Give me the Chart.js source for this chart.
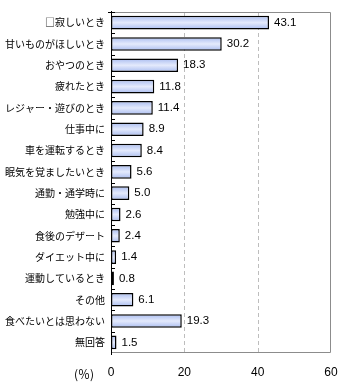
<!DOCTYPE html>
<html>
<head>
<meta charset="utf-8">
<script src="https://cdn.jsdelivr.net/npm/chart.js@4"></script>
<style>
  html,body{margin:0;padding:0;background:#fff;}
  #wrap{width:340px;height:384px;position:relative;}
</style>
</head>
<body>
<div id="wrap"><canvas id="c" width="340" height="384"></canvas></div>
<script>
const categories = [
  "□寂しいとき", "甘いものがほしいとき", "おやつのとき", "疲れたとき",
  "レジャー・遊びのとき", "仕事中に", "車を運転するとき", "眠気を覚ましたいとき",
  "通勤・通学時に", "勉強中に", "食後のデザート", "ダイエット中に",
  "運動しているとき", "その他", "食べたいとは思わない", "無回答"
];
const values = [43.1, 30.2, 18.3, 11.8, 11.4, 8.9, 8.4, 5.6, 5.0, 2.6, 2.4, 1.4, 0.8, 6.1, 19.3, 1.5];
const xTicks = [0, 20, 40, 60];

const labelFont = '"Noto Sans CJK JP", sans-serif';
const numFont = '"Liberation Sans", Arial, sans-serif';

// vertical gradient for each bar: darker edges, pale middle
function barFill(ctx){
  const chart = ctx.chart;
  const y = chart.scales.y;
  if(!y) return '#c8d4f6';
  const band = y.getPixelForValue(1) - y.getPixelForValue(0);
  const cy = y.getPixelForValue(ctx.dataIndex);
  if(!isFinite(band) || !isFinite(cy) || band <= 0) return '#c8d4f6';
  const h = band * 0.64;
  const g = chart.ctx.createLinearGradient(0, cy - h/2, 0, cy + h/2);
  g.addColorStop(0, '#a9bcf0');
  g.addColorStop(0.5, '#e4eafc');
  g.addColorStop(1, '#a9bcf0');
  return g;
}

const framePlugin = {
  id: 'frame',
  beforeDatasetsDraw(chart){
    // dashed value grid at the inner x ticks
    const {ctx, chartArea: a, scales} = chart;
    ctx.save();
    ctx.strokeStyle = '#bdbdbd';
    ctx.lineWidth = 1;
    ctx.setLineDash([4, 3]);
    ctx.beginPath();
    xTicks.slice(1, -1).forEach(v=>{
      const px = Math.round(scales.x.getPixelForValue(v)) + 0.5;
      ctx.moveTo(px, a.top);
      ctx.lineTo(px, a.bottom);
    });
    ctx.stroke();
    ctx.restore();
  },
  afterDraw(chart){
    const {ctx, chartArea: a, scales} = chart;
    ctx.save();
    // grey frame top/right/bottom
    ctx.strokeStyle = '#8c8c8c';
    ctx.lineWidth = 1;
    ctx.beginPath();
    ctx.moveTo(a.left, a.top + 0.5);
    ctx.lineTo(a.right - 0.5, a.top + 0.5);
    ctx.lineTo(a.right - 0.5, a.bottom - 0.5);
    ctx.lineTo(a.left, a.bottom - 0.5);
    ctx.stroke();
    // black category axis with inner ticks at band edges
    ctx.strokeStyle = '#000';
    ctx.beginPath();
    ctx.moveTo(a.left + 0.5, a.top - 1);
    ctx.lineTo(a.left + 0.5, a.bottom + 2);
    const y = scales.y;
    const band = y.getPixelForValue(1) - y.getPixelForValue(0);
    for(let i = 0; i < categories.length; i++){
      const ty = Math.round(y.getPixelForValue(i) - band/2) + 0.5;
      ctx.moveTo(a.left, ty);
      ctx.lineTo(a.left + 4, ty);
    }
    ctx.moveTo(a.left - 3, a.top + 0.5);
    ctx.lineTo(a.left, a.top + 0.5);
    ctx.stroke();
    // value labels
    ctx.fillStyle = '#000';
    ctx.font = '11.5px ' + numFont;
    ctx.textBaseline = 'middle';
    ctx.textAlign = 'left';
    const meta = chart.getDatasetMeta(0);
    meta.data.forEach((bar, i)=>{
      ctx.fillText(values[i].toFixed(1), bar.x + 5, bar.y);
    });
    // unit label
    ctx.font = '12px ' + labelFont;
    ctx.textAlign = 'center';
    ctx.fillText('(％)', a.left - 27, a.bottom + 21);
    ctx.restore();
  }
};

new Chart(document.getElementById('c'), {
  type: 'bar',
  data: {
    labels: categories,
    datasets: [{
      data: values,
      backgroundColor: barFill,
      borderColor: '#000',
      borderWidth: 1.5,
      borderSkipped: false,
      barPercentage: 0.64,
      categoryPercentage: 1
    }]
  },
  options: {
    indexAxis: 'y',
    responsive: false,
    animation: false,
    devicePixelRatio: 1,
    layout: { padding: { left: 0, right: 9, top: 6, bottom: 0 } },
    plugins: { legend: { display: false }, tooltip: { enabled: false } },
    scales: {
      x: {
        min: 0, max: 60,
        afterBuildTicks(s){ s.ticks = xTicks.map(v=>({value: v})); },
        afterFit(s){ s.height = 31; s.paddingLeft = 0; s.paddingRight = 0; },
        grid: { display: false, drawTicks: false },
        border: { display: false },
        ticks: {
          color: '#000',
          padding: 12,
          font: { family: numFont, size: 12 }
        }
      },
      y: {
        afterFit(s){ s.width = 111; },
        grid: { display: false, drawTicks: false },
        border: { display: false },
        ticks: {
          color: '#000',
          padding: 6,
          autoSkip: false,
          font: { family: labelFont, size: 10 }
        }
      }
    }
  },
  plugins: [framePlugin]
});
</script>
</body>
</html>
